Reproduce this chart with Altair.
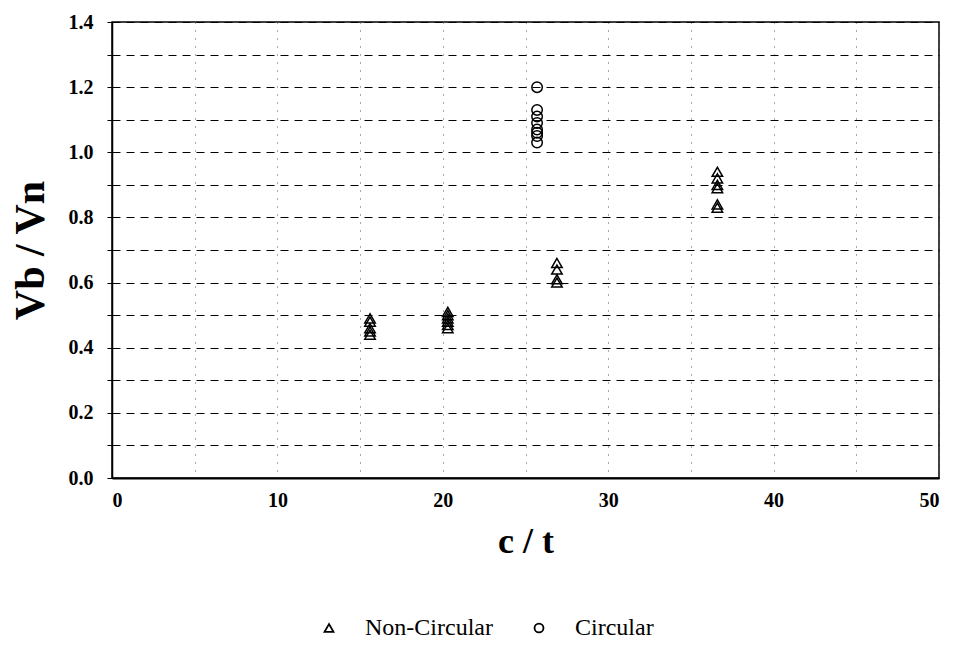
import altair as alt
import pandas as pd

# Non-circular openings (triangles)
nc_x = [15.6] * 5 + [20.3] * 6 + [26.9] * 4 + [36.6] * 6
nc_y = [0.49, 0.48, 0.46, 0.45, 0.44,
        0.51, 0.50, 0.49, 0.48, 0.47, 0.46,
        0.66, 0.64, 0.61, 0.60,
        0.94, 0.92, 0.90, 0.89, 0.84, 0.83]
# Circular openings (circles)
c_x = [25.7] * 8
c_y = [1.20, 1.13, 1.11, 1.09, 1.07, 1.06, 1.05, 1.03]

series = ["Non-Circular", "Circular"]
x_ticks = [0, 5, 10, 15, 20, 25, 30, 35, 40, 45, 50]
y_ticks = [round(i * 0.1, 1) for i in range(15)]

df = pd.DataFrame({
    "ct": nc_x + c_x,
    "vb": nc_y + c_y,
    "type": [series[0]] * len(nc_x) + [series[1]] * len(c_x),
})

FONT = "Liberation Serif"

x_enc = alt.X("ct:Q", scale=alt.Scale(domain=[0, 50], nice=False),
              axis=alt.Axis(values=x_ticks, title="c / t",
                            labelExpr="datum.value % 10 == 0 ? datum.label : ''",
                            grid=True, gridDash=[1, 7], gridColor="#555", gridWidth=1,
                            ticks=False, labelPadding=12, titlePadding=14,
                            labelFontSize=20, titleFontSize=36,
                            domainColor="black", domainWidth=2))
y_enc = alt.Y("vb:Q", scale=alt.Scale(domain=[0, 1.4], nice=False),
              axis=alt.Axis(values=y_ticks, title="Vb / Vn", format=".1f",
                            labelExpr="(round(datum.value*10) % 2 == 0) ? datum.label : ''",
                            grid=True, gridDash=[8, 6], gridColor="black", gridWidth=1,
                            tickSize=5, tickColor="black", labelPadding=14,
                            titlePadding=16, labelFontSize=20, titleFontSize=42,
                            domainColor="black", domainWidth=1.5))

chart = alt.Chart(df).mark_point(filled=False, size=110, strokeWidth=1.5, color="black",
                                 opacity=1).encode(
    x=x_enc,
    y=y_enc,
    shape=alt.Shape("type:N",
                    scale=alt.Scale(domain=series, range=["triangle-up", "circle"]),
                    legend=alt.Legend(title=None, orient="none", legendX=205, legendY=594,
                                      direction="horizontal", columns=2,
                                      labelFontSize=24, labelOffset=24,
                                      columnPadding=34, symbolSize=80,
                                      symbolStrokeColor="black", symbolStrokeWidth=1.8,
                                      symbolFillColor="white", symbolOpacity=1)),
).properties(
    width=827, height=456,
    autosize=alt.AutoSizeParams(type="none"),
    padding={"left": 104, "top": 14, "right": 11, "bottom": 175},
).configure(
    font=FONT,
).configure_axis(
    labelFont=FONT, titleFont=FONT, labelColor="black", titleColor="black",
    labelFontWeight="bold", titleFontWeight="bold",
).configure_legend(
    labelFont=FONT, labelColor="black", labelFontWeight="normal",
).configure_view(
    stroke="black", strokeWidth=1.5,
)

chart.save("out.html", embed_options={"renderer": "svg", "actions": False})
